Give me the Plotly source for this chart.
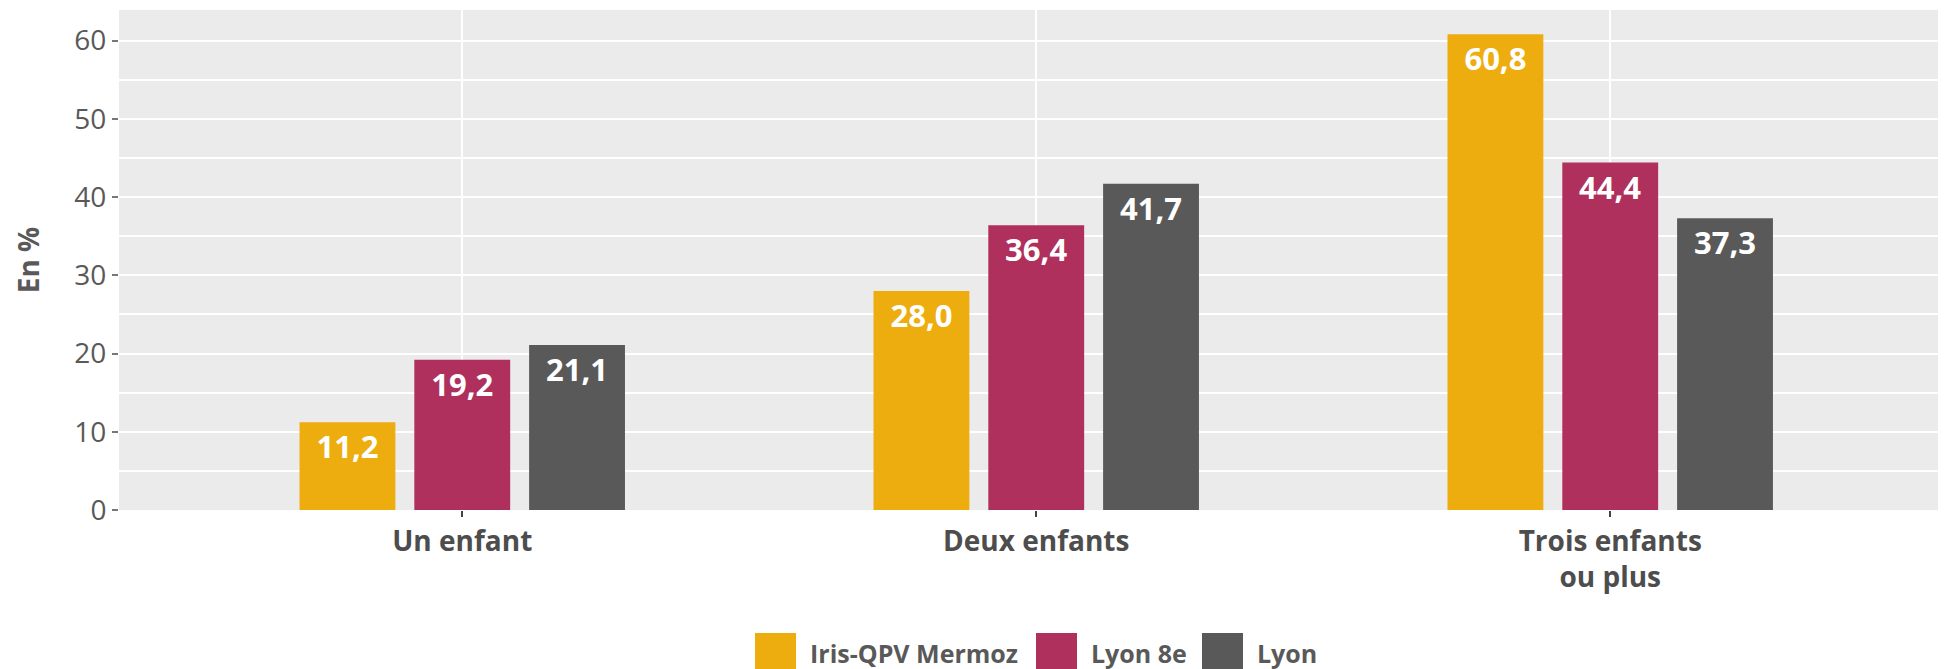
import plotly.graph_objects as go

categories = ["Un enfant", "Deux enfants", "Trois enfants<br>ou plus"]
series_names = ["Iris-QPV Mermoz", "Lyon 8e", "Lyon"]
mermoz = [11.2, 28.0, 60.8]
lyon8 = [19.2, 36.4, 44.4]
lyon = [21.1, 41.7, 37.3]
y_ticks = [0, 10, 20, 30, 40, 50, 60]

colors = ["#EDAD0F", "#B0305D", "#595959"]
FONT = "Open Sans"
OFF = 8  # page body margin offset
W, H = 1946 - OFF, 669 - OFF
ML, MR, MT, MB = 119 - OFF, 0, 10 - OFF, 159

fig = go.Figure()
for name, vals, col in zip(series_names, [mermoz, lyon8, lyon], colors):
    fig.add_trace(go.Bar(
        x=categories, y=vals, name=name, marker_color=col,
        marker_line_width=0,
        texttemplate="%{y:.1f}", textposition="inside",
        insidetextanchor="end", textangle=0, constraintext="none",
        textfont=dict(family=FONT, size=31, color="white", weight="bold"),
        showlegend=False, hoverinfo="skip",
    ))

# custom legend (large swatches), positions in page pixels
pw, ph = W - ML - MR, H - MT - MB
def px_x(x):
    return (x - OFF - ML) / pw
def px_y(y):
    return (H - MB - (y - OFF)) / ph

legend_x = [755, 1036, 1202]
for name, col, lx in zip(series_names, colors, legend_x):
    fig.add_shape(type="rect", xref="paper", yref="paper",
                  x0=px_x(lx), x1=px_x(lx + 41), y0=px_y(633), y1=px_y(690),
                  fillcolor=col, line_width=0, layer="above")
    fig.add_annotation(xref="paper", yref="paper", x=px_x(lx + 53), y=px_y(653),
                       xanchor="left", yanchor="middle", text=name, showarrow=False,
                       font=dict(family=FONT, size=25, color="#595959", weight="bold"))

fig.update_layout(
    width=W, height=H,
    margin=dict(l=ML, r=MR, t=MT, b=MB),
    barmode="group", bargap=0.4, bargroupgap=0.165,
    plot_bgcolor="#EBEBEB", paper_bgcolor="white",
    separators=", ",
    font=dict(family=FONT, color="#595959"),
    showlegend=False,
)
fig.update_xaxes(
    range=[-0.598, 2.585], showgrid=True, gridcolor="white", gridwidth=1.5,
    ticks="outside", ticklen=6, tickcolor="#444444", tickwidth=1.5,
    tickfont=dict(family=FONT, size=28, color="#4D4D4D", weight="bold"),
    zeroline=False, showline=False,
)
fig.update_yaxes(
    range=[0, 63.9], tickvals=y_ticks, showgrid=True, gridcolor="white", gridwidth=1.5,
    minor=dict(dtick=5, tick0=0, showgrid=True, gridcolor="white", gridwidth=1.5, ticklen=0),
    ticks="outside", ticklen=6, tickcolor="#777777", tickwidth=1.5,
    tickfont=dict(family=FONT, size=28, color="#595959"),
    title=dict(text="En %", font=dict(family=FONT, size=28, color="#595959", weight="bold"), standoff=26),
    zeroline=False, showline=False,
)

fig.write_html("out.html")
